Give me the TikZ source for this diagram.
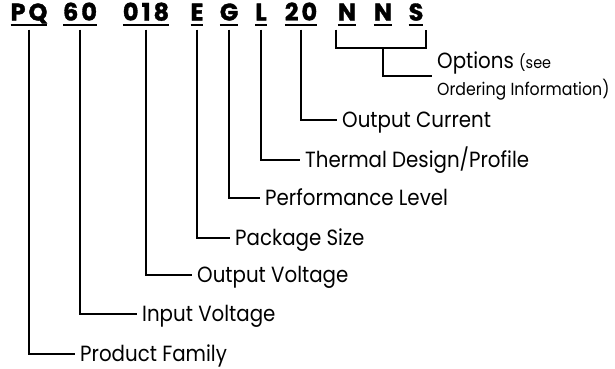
\documentclass[tikz,border=0pt]{standalone}
\usepackage{fontspec}
\setmainfont{Poppins}[FakeStretch=0.9]
\newfontfamily\codefont{Poppins}[FakeBold=1.4]
\newcommand{\ls}{\kern3pt}

\begin{document}
\begin{tikzpicture}[
    x=1pt, y=-1pt,
    code/.style={font=\codefont\fontsize{24}{24}\selectfont\bfseries, anchor=base,
                 inner xsep=0pt, inner ysep=4.5pt, outer sep=0pt, text depth=0pt,
                 append after command={(\tikzlastnode.south west) edge[uline] (\tikzlastnode.south east)}},
    uline/.style={line width=1.6pt},
    lbl/.style={font=\fontsize{22}{22}\selectfont, anchor=west, inner xsep=5pt,
                inner ysep=0pt, text height=15.4pt, text depth=0pt},
    conn/.style={line width=2pt}
]
\useasboundingbox (0,0) rectangle (615,368);

% part number
\node[code] (pq) at (29,20.5) {P\ls Q};
\node[code] (vin) at (80,20.5) {6\ls 0};
\node[code] (vout) at (146,20.5) {0\ls 1\ls 8};
\node[code] (pkg) at (197,20.5) {E};
\node[code] (perf) at (229,20.5) {G};
\node[code] (therm) at (261,20.5) {L};
\node[code] (iout) at (301,20.5) {2\ls 0};
\node[code] (n1) at (347,20.5) {N};
\node[code] (n2) at (383,20.5) {N};
\node[code] (s) at (416,20.5) {S};

% field names
\node[lbl] (fam) at (75,354) {Product Family};
\node[lbl] (inv) at (137,314) {Input Voltage};
\node[lbl] (outv) at (192,275) {Output Voltage};
\node[lbl] (pkgsz) at (230,238) {Package Size};
\node[lbl] (perfl) at (260,198) {Performance Level};
\node[lbl] (thermd) at (300,160) {Thermal Design/Profile};
\node[lbl] (outc) at (337,120) {Output Current};
\node[anchor=west, align=left, inner xsep=5pt, inner ysep=0pt,
      font=\fontsize{22}{27}\selectfont] (opts) at (432,76)
      {Options {\fontsize{16}{27}\selectfont(see}\\{\fontsize{17.5}{27}\selectfont Ordering Information)}};

% leaders
\draw[conn] ([yshift=-4.5pt]pq.south) |- (fam.west);
\draw[conn] ([yshift=-4.5pt]vin.south) |- (inv.west);
\draw[conn] ([yshift=-4.5pt]vout.south) |- (outv.west);
\draw[conn] ([yshift=-4.5pt]pkg.south) |- (pkgsz.west);
\draw[conn] ([yshift=-4.5pt]perf.south) |- (perfl.west);
\draw[conn] ([yshift=-4.5pt]therm.south) |- (thermd.west);
\draw[conn] ([yshift=-4.5pt]iout.south) |- (outc.west);
\coordinate (nns) at ([yshift=-23pt]n2.south);
\draw[conn] ([shift={(-2pt,-4.5pt)}]n1.south west) |- (nns) -| ([shift={(3pt,-4.5pt)}]s.south east);
\draw[conn] (nns) |- (opts.west);
\end{tikzpicture}
\end{document}
